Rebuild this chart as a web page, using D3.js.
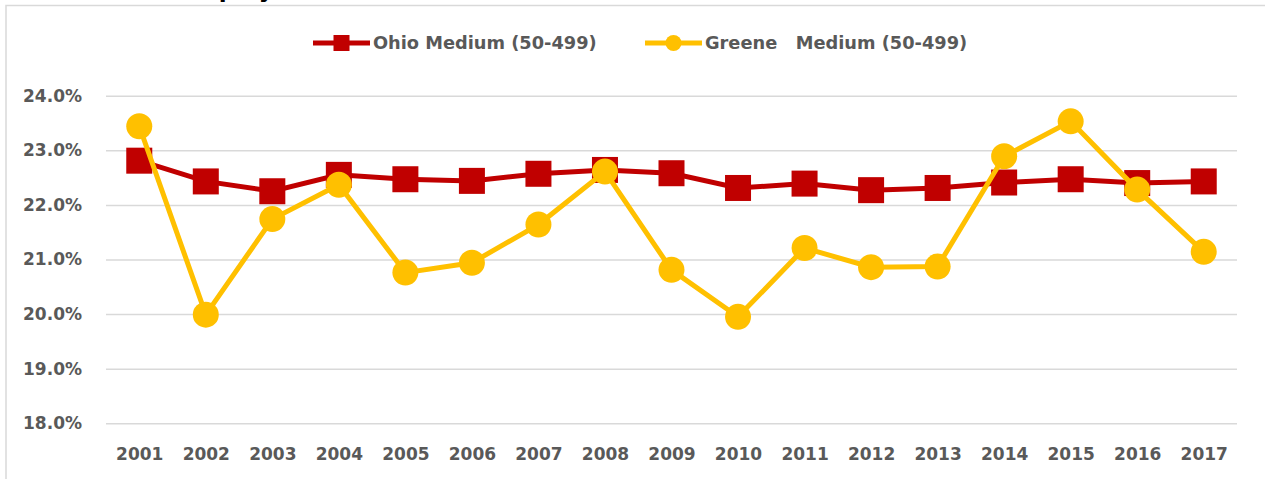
<!DOCTYPE html>
<html>
<head>
<meta charset="utf-8">
<style>
  body { margin: 0; background: #fff; }
  text { font-family: "DejaVu Sans", sans-serif; font-weight: bold; }
</style>
</head>
<body>
<script src="https://d3js.org/d3.v7.min.js"></script>
<svg id="chart" width="1265" height="479"></svg>
<script>
const years = ["2001","2002","2003","2004","2005","2006","2007","2008","2009","2010","2011","2012","2013","2014","2015","2016","2017"]
const ohio = [22.81, 22.43, 22.25, 22.55, 22.47, 22.44, 22.57, 22.64, 22.58, 22.31, 22.39, 22.27, 22.31, 22.41, 22.47, 22.40, 22.43]
const greene = [23.44, 19.99, 21.74, 22.37, 20.76, 20.94, 21.64, 22.61, 20.81, 19.95, 21.21, 20.86, 20.87, 22.89, 23.53, 22.28, 21.14]
const yTicks = [18, 19, 20, 21, 22, 23, 24]
const seriesNames = ["Ohio Medium (50-499)", "Greene   Medium (50-499)"]

const red = "#C00000", yellow = "#FFC000", grid = "#D9D9D9", textGray = "#595959"

const svg = d3.select("#chart")

// frame + title (cut off at the top, as in the source)
svg.append("rect")
    .attr("x", 6).attr("y", 5.5)
    .attr("width", 1300).attr("height", 500)
    .attr("fill", "none").attr("stroke", grid).attr("stroke-width", 1.5)
svg.append("text")
    .attr("x", 179).attr("y", -3.5)
    .style("font-size", "23px").attr("fill", "#000")
    .text("Employment")

const xScale = d3.scalePoint().domain(years).range([106, 1237]).padding(0.5)
const yScale = d3.scaleLinear().domain([18, 24]).range([423.3, 95.7])

const yAxis = d3.axisLeft(yScale)
    .tickValues(yTicks)
    .tickFormat(d => d.toFixed(1) + "%")
    .tickSize(-(1237 - 106))
    .tickPadding(24)
svg.append("g").attr("class", "yAxisG")
    .attr("transform", "translate(106,0)")
    .call(yAxis)
svg.select("g.yAxisG").select("path.domain").remove()
svg.selectAll("g.yAxisG line").attr("stroke", grid).attr("stroke-width", 1.5)
svg.selectAll("g.yAxisG text")
    .attr("fill", textGray).style("font-size", "17px")
    .style("font-family", "'DejaVu Sans', sans-serif").style("font-weight", "bold")

const xAxis = d3.axisBottom(xScale).tickSize(0).tickPadding(25)
svg.append("g").attr("class", "xAxisG")
    .attr("transform", "translate(0,423.3)")
    .call(xAxis)
svg.select("g.xAxisG").select("path.domain").remove()
svg.selectAll("g.xAxisG text")
    .attr("fill", textGray).style("font-size", "17px")
    .style("font-family", "'DejaVu Sans', sans-serif").style("font-weight", "bold")

// Ohio series
const ohioLine = d3.line().x((d, i) => xScale(years[i])).y(d => yScale(d))
svg.append("path")
    .attr("d", ohioLine(ohio))
    .attr("fill", "none").attr("stroke", red).attr("stroke-width", 5)
svg.selectAll("rect.ohio")
    .data(ohio).enter().append("rect")
    .attr("class", "ohio")
    .attr("x", (d, i) => xScale(years[i]) - 13)
    .attr("y", d => yScale(d) - 13)
    .attr("width", 26).attr("height", 26)
    .attr("fill", red)

// Greene series
const greeneLine = d3.line().x((d, i) => xScale(years[i])).y(d => yScale(d))
svg.append("path")
    .attr("d", greeneLine(greene))
    .attr("fill", "none").attr("stroke", yellow).attr("stroke-width", 5)
svg.selectAll("circle.greene")
    .data(greene).enter().append("circle")
    .attr("class", "greene")
    .attr("cx", (d, i) => xScale(years[i]))
    .attr("cy", d => yScale(d))
    .attr("r", 13)
    .attr("fill", yellow)

// legend
const legend = svg.append("g").attr("class", "legend")
const lx = [313, 645]
legend.append("line").attr("x1", lx[0]).attr("x2", lx[0] + 57).attr("y1", 43).attr("y2", 43)
    .attr("stroke", red).attr("stroke-width", 5)
legend.append("rect").attr("x", lx[0] + 20.5).attr("y", 35).attr("width", 16).attr("height", 16).attr("fill", red)
legend.append("line").attr("x1", lx[1]).attr("x2", lx[1] + 57).attr("y1", 43).attr("y2", 43)
    .attr("stroke", yellow).attr("stroke-width", 5)
legend.append("circle").attr("cx", lx[1] + 28.5).attr("cy", 43).attr("r", 8).attr("fill", yellow)
legend.selectAll("text.leg")
    .data(seriesNames).enter().append("text")
    .attr("class", "leg")
    .attr("x", (d, i) => lx[i] + 60)
    .attr("y", 43).attr("dy", "0.36em")
    .attr("fill", textGray).style("font-size", "17.8px")
    .style("white-space", "pre")
    .text(d => d)
</script>
</body>
</html>
